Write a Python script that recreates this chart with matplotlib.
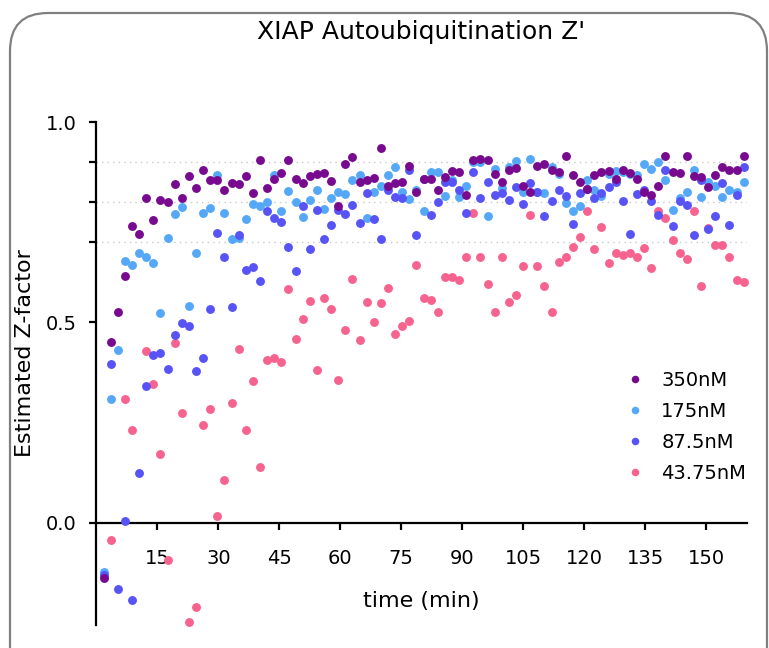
import numpy as np
import matplotlib
matplotlib.use("Agg")
import matplotlib.pyplot as plt
from matplotlib.patches import FancyBboxPatch

# ---------------- data ----------------
time_min = [1.75, 3.5, 5.25, 7, 8.75, 10.5, 12.25, 14, 15.75, 17.5, 19.25, 21, 22.75, 24.5,
            26.25, 28, 29.75, 31.5, 33.25, 35, 36.75, 38.5, 40.25, 42, 43.75, 45.5, 47.25, 49,
            50.75, 52.5, 54.25, 56, 57.75, 59.5, 61.25, 63, 64.75, 66.5, 68.25, 70, 71.75, 73.5,
            75.25, 77, 78.75, 80.5, 82.25, 84, 85.75, 87.5, 89.25, 91, 92.75, 94.5, 96.25, 98,
            99.75, 101.5, 103.25, 105, 106.75, 108.5, 110.25, 112, 113.75, 115.5, 117.25, 119,
            120.75, 122.5, 124.25, 126, 127.75, 129.5, 131.25, 133, 134.75, 136.5, 138.25, 140,
            141.75, 143.5, 145.25, 147, 148.75, 150.5, 152.25, 154, 155.75, 157.5, 159.25]

z_350 = [-0.137, 0.45, 0.525, 0.617, 0.74, 0.72, 0.81, 0.755, 0.805, 0.80,
         0.845, 0.81, 0.866, 0.836, 0.88, 0.856, 0.856, 0.83, 0.848, 0.846,
         0.865, 0.823, 0.905, 0.836, 0.858, 0.873, 0.905, 0.859, 0.848, 0.865,
         0.871, 0.873, 0.852, 0.79, 0.896, 0.912, 0.851, 0.855, 0.861, 0.934,
         0.84, 0.848, 0.851, 0.89, 0.826, 0.858, 0.858, 0.831, 0.862, 0.877,
         0.876, 0.819, 0.906, 0.908, 0.905, 0.871, 0.851, 0.881, 0.886, 0.84,
         0.825, 0.89, 0.894, 0.88, 0.876, 0.915, 0.869, 0.851, 0.833, 0.869,
         0.876, 0.878, 0.858, 0.881, 0.873, 0.859, 0.825, 0.819, 0.841, 0.915,
         0.876, 0.873, 0.915, 0.865, 0.863, 0.837, 0.867, 0.887, 0.88, 0.88,
         0.916]

z_175 = [-0.124, 0.31, 0.43, 0.652, 0.642, 0.672, 0.663, 0.647, 0.524, 0.71,
         0.77, 0.787, 0.542, 0.674, 0.773, 0.785, 0.867, 0.772, 0.709, 0.711,
         0.758, 0.796, 0.79, 0.80, 0.867, 0.777, 0.827, 0.80, 0.762, 0.805,
         0.831, 0.784, 0.811, 0.826, 0.821, 0.855, 0.867, 0.761, 0.826, 0.841,
         0.867, 0.888, 0.826, 0.808, 0.83, 0.779, 0.876, 0.876, 0.815, 0.856,
         0.812, 0.841, 0.90, 0.90, 0.765, 0.883, 0.836, 0.888, 0.902, 0.826,
         0.908, 0.826, 0.823, 0.888, 0.87, 0.798, 0.779, 0.79, 0.855, 0.831,
         0.815, 0.87, 0.877, 0.875, 0.87, 0.867, 0.894, 0.883, 0.90, 0.856,
         0.781, 0.81, 0.826, 0.88, 0.812, 0.851, 0.841, 0.812, 0.83, 0.826,
         0.851]

z_87_5 = [-0.13, 0.395, -0.166, 0.005, -0.192, 0.123, 0.342, 0.418, 0.424, 0.384,
          0.468, 0.499, 0.492, 0.378, 0.41, 0.534, 0.722, 0.663, 0.538, 0.719,
          0.631, 0.638, 0.604, 0.777, 0.761, 0.75, 0.688, 0.627, 0.79, 0.684,
          0.781, 0.708, 0.742, 0.781, 0.771, 0.792, 0.748, 0.823, 0.757, 0.707,
          0.831, 0.812, 0.81, 0.88, 0.717, 0.858, 0.768, 0.80, 0.85, 0.85,
          0.831, 0.773, 0.875, 0.81, 0.85, 0.817, 0.823, 0.806, 0.837, 0.795,
          0.848, 0.826, 0.765, 0.802, 0.831, 0.815, 0.746, 0.823, 0.833, 0.81,
          0.823, 0.838, 0.85, 0.802, 0.721, 0.82, 0.831, 0.802, 0.769, 0.88,
          0.74, 0.802, 0.792, 0.719, 0.856, 0.732, 0.765, 0.848, 0.744, 0.819,
          0.887]

z_43_75 = [np.nan, -0.042, np.nan, 0.309, 0.232, np.nan, 0.428, 0.346, 0.172, -0.094,
           0.449, 0.275, -0.248, -0.209, 0.243, 0.285, 0.018, 0.107, 0.30, 0.434,
           0.232, 0.355, 0.138, 0.407, 0.411, 0.40, 0.584, 0.459, 0.509, 0.553,
           0.382, 0.561, 0.534, 0.357, 0.482, 0.608, 0.455, 0.552, 0.50, 0.549,
           0.586, 0.471, 0.492, 0.504, 0.643, 0.561, 0.557, 0.525, 0.613, 0.613,
           0.607, 0.662, 0.773, 0.662, 0.597, 0.526, 0.663, 0.55, 0.568, 0.64,
           0.769, 0.64, 0.59, 0.526, 0.65, 0.663, 0.688, 0.712, 0.777, 0.682,
           0.738, 0.648, 0.672, 0.667, 0.672, 0.663, 0.686, 0.636, 0.777, 0.761,
           0.705, 0.673, 0.657, 0.777, 0.59, 0.736, 0.694, 0.693, 0.662, 0.605,
           0.60]

series_labels = ["350nM", "175nM", "87.5nM", "43.75nM"]
series_values = [z_350, z_175, z_87_5, z_43_75]
series_colors = ["#770A8E", "#55A8F7", "#5753F4", "#F7638F"]
series_zorder = [5, 3, 4, 2]

x_ticks = [15, 30, 45, 60, 75, 90, 105, 120, 135, 150]
y_ticks = [0.0, 0.5, 1.0]
y_tick_labels = ["0.0", "0.5", "1.0"]
y_minor_ticks = [0.7, 0.8, 0.9]

title = "XIAP Autoubiquitination Z'"
x_label = "time (min)"
y_label = "Estimated Z-factor"

# ---------------- figure ----------------
plt.rcParams["font.family"] = ["DejaVu Sans"]
W, H = 769, 648
fig = plt.figure(figsize=(W / 100, H / 100), dpi=100)
fig.patch.set_facecolor("white")

# rounded border
border = FancyBboxPatch((10 / 100, -60 / 100), 757 / 100, (H - 13 + 60) / 100,
                        boxstyle="round,pad=0,rounding_size=0.38",
                        transform=fig.dpi_scale_trans, facecolor="none",
                        edgecolor="#808080", linewidth=1.6, zorder=0)
fig.add_artist(border)

left_px, right_px, top_px, bottom_px = 96.4, 746.7, 122, 625
ax = fig.add_axes([left_px / W, 1 - bottom_px / H,
                   (right_px - left_px) / W, (bottom_px - top_px) / H])
ax.set_facecolor("none")
ax.set_xlim(0, 160)
ax.set_ylim(-0.255, 1.0)

handles = []
for lab, vals, col, zo in zip(series_labels, series_values, series_colors, series_zorder):
    h, = ax.plot(time_min, vals, linestyle="none", marker="o", markersize=6.4,
                 markeredgewidth=0, color=col, label=lab, zorder=zo, clip_on=False)
    handles.append(h)

# dotted reference lines
ax.hlines(y_minor_ticks, 0, 160, colors="#c8c8c8", linestyles=(0, (1, 3)),
          linewidth=1.0, zorder=1)

# spines
for s in ["top", "right"]:
    ax.spines[s].set_visible(False)
ax.spines["left"].set_linewidth(1.6)
ax.spines["bottom"].set_linewidth(1.6)
ax.spines["bottom"].set_position(("data", 0))
ax.spines["bottom"].set_bounds(0, 160)

ax.set_xticks(x_ticks)
ax.set_xticklabels([str(t) for t in x_ticks])
ax.set_yticks(y_ticks)
ax.set_yticklabels(y_tick_labels)
ax.set_yticks(y_minor_ticks, minor=True)
ax.tick_params(axis="x", which="major", direction="out", length=5, width=1.6,
               labelsize=14, pad=14, colors="black")
ax.tick_params(axis="y", which="both", direction="out", length=5, width=1.6,
               labelsize=14, pad=9, colors="black")

cx = ((left_px + right_px) / 2) / W
fig.text(cx, 1 - 31.5 / H, title, ha="center", va="center", fontsize=18)
fig.text(cx, 1 - 601 / H, x_label, ha="center", va="center", fontsize=16)
fig.text(25 / W, 1 - 353 / H, y_label, ha="center", va="center", rotation=90, fontsize=16)

leg = ax.legend(handles=handles, labels=series_labels, loc="upper left",
                bbox_to_anchor=(625.3 / W, 1 - 371 / H), bbox_transform=fig.transFigure,
                frameon=False, fontsize=14, handlelength=1.0, handletextpad=0.85,
                labelspacing=0.62, borderpad=0, borderaxespad=0, markerscale=0.85,
                numpoints=1)

fig.savefig("out.png", dpi=100, facecolor="white")
